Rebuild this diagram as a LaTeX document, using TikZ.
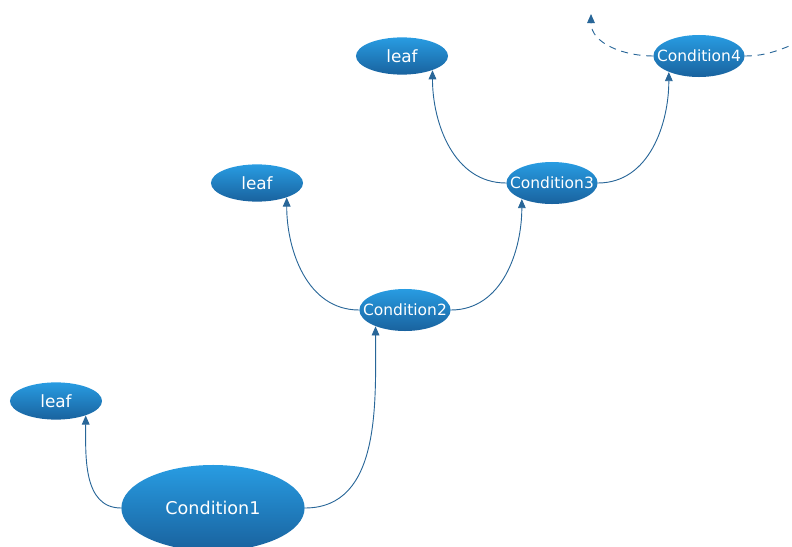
\documentclass[tikz,border=0pt]{standalone}
\usepackage{fontspec}
\setmainfont{DejaVu Sans}
\usetikzlibrary{shapes.geometric,arrows.meta}
\definecolor{ellTop}{RGB}{40,156,226}
\definecolor{ellBot}{RGB}{25,98,158}
\definecolor{wire}{RGB}{40,102,152}
\tikzset{
  cond/.style={ellipse, inner sep=-1cm, top color=ellTop, bottom color=ellBot, text=white,
    minimum width=2.28cm, minimum height=1.05cm, font=\fontsize{11}{13}\selectfont},
  leafnode/.style={cond, minimum width=2.3cm, minimum height=0.93cm, font=\fontsize{12}{14}\selectfont},
  branch/.style={draw=wire, line width=0.65pt, -{Triangle[width=5.5pt,length=6.5pt]}},
  loopback/.style={branch, dash pattern=on 5pt off 4pt}
}
\begin{document}
\begin{tikzpicture}[x=0.025cm,y=-0.025cm]
\clip (0,0) rectangle (792,547);
% nodes
\node[cond, minimum width=4.58cm, minimum height=2.15cm, font=\fontsize{12.5}{15}\selectfont] (c1) at (213,508) {Condition1};
\node[leafnode] (leaf1) at (56,401) {leaf};
\node[cond] (c2) at (405,310) {Condition2};
\node[leafnode] (leaf2) at (257,183) {leaf};
\node[cond] (c3) at (552,183) {Condition3};
\node[leafnode] (leaf3) at (402,56) {leaf};
\node[cond] (c4) at (699,56) {Condition4};
\coordinate (back) at (591,14);
\coordinate (onward) at (805,40);
% branches
\draw[branch] (c1.west) to[out=180,in=-90] (leaf1.-26);
\draw[branch] (c1.east) to[out=0,in=-90] (c2.-151);
\draw[branch] (c2.west) to[out=180,in=-90] (leaf2.-26);
\draw[branch] (c2.east) to[out=0,in=-90] (c3.-152);
\draw[branch] (c3.west) to[out=180,in=-90] (leaf3.-25);
\draw[branch] (c3.east) to[out=0,in=-90] (c4.-152);
\draw[loopback] (c4.west) to[out=180,in=-90] (back);
\draw[loopback, -] (c4.east) to[out=0,in=200] (onward);
\end{tikzpicture}
\end{document}
